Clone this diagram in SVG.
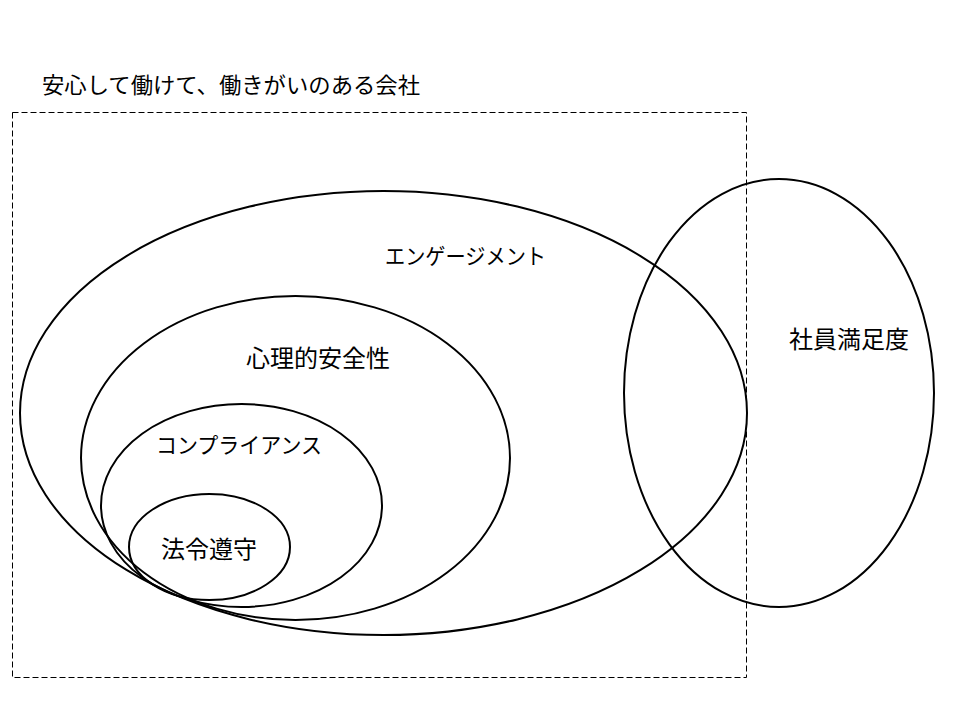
<svg xmlns="http://www.w3.org/2000/svg" width="960" height="720" viewBox="0 0 960 720">
<style>
.e{fill:none;stroke:#000;stroke-width:2}
.t{font-family:"Noto Sans CJK JP","Noto Sans",sans-serif;font-size:22px;fill:#000}
.k{font-size:24px}
</style>
<rect width="960" height="720" fill="#fff"/>
<g id="frame">
<rect x="12.5" y="112.5" width="734" height="565" fill="none" stroke="#000" stroke-width="1" stroke-dasharray="6,3"/>
<text class="t" x="42" y="93" textLength="378" lengthAdjust="spacingAndGlyphs">安心して働けて、働きがいのある会社</text>
</g>
<g id="engagement">
<ellipse class="e" cx="383.5" cy="413" rx="363.5" ry="222"/>
<text class="t" x="385" y="264" textLength="161" lengthAdjust="spacingAndGlyphs">エンゲージメント</text>
</g>
<g id="psych">
<ellipse class="e" cx="295.5" cy="458" rx="214.5" ry="162"/>
<text class="t k" x="246" y="367">心理的安全性</text>
</g>
<g id="compliance">
<ellipse class="e" cx="241.5" cy="505.5" rx="140.5" ry="101.5"/>
<text class="t" x="156" y="453" textLength="166" lengthAdjust="spacingAndGlyphs">コンプライアンス</text>
</g>
<g id="law">
<ellipse class="e" cx="209.5" cy="547" rx="80.5" ry="53"/>
<text class="t k" x="161" y="558">法令遵守</text>
</g>
<g id="satisfaction">
<ellipse class="e" cx="779" cy="393" rx="155" ry="214"/>
<text class="t k" x="789" y="348">社員満足度</text>
</g>
</svg>
